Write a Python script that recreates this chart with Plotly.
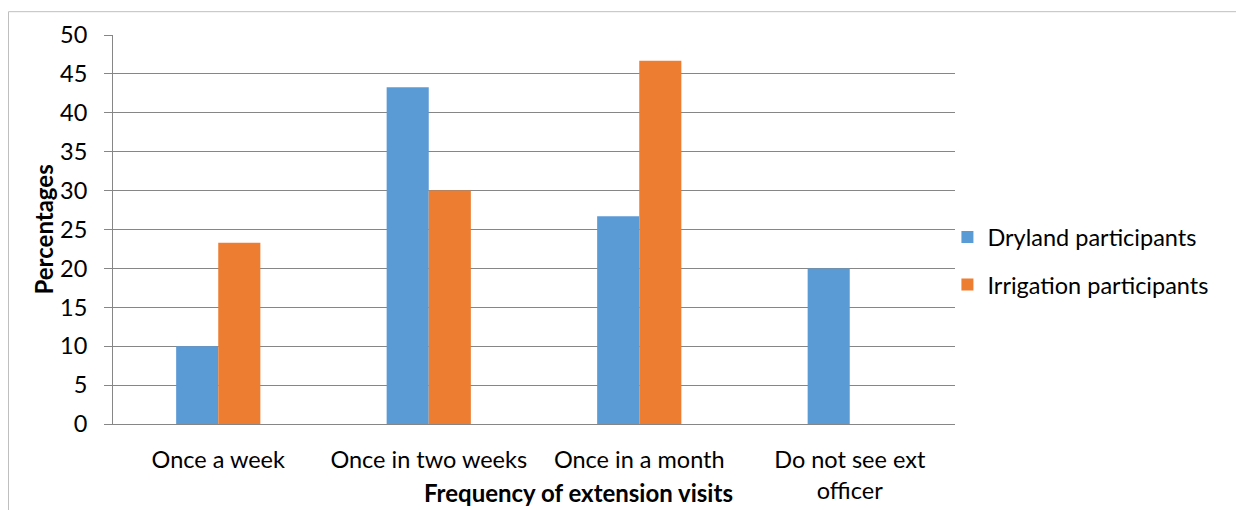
import plotly.graph_objects as go

categories = ["Once a week", "Once in two weeks", "Once in a month", "Do not see ext<br>officer"]
dryland = [10, 43.3, 26.7, 20]
irrigation = [23.3, 30, 46.7, 0]
series_names = ["Dryland participants", "Irrigation participants"]
tick_vals = [0, 5, 10, 15, 20, 25, 30, 35, 40, 45, 50]

FONT = "Lato"
FS = 23.5
fig = go.Figure()
fig.add_trace(go.Bar(x=categories, y=dryland, name=series_names[0], marker_color="#5B9BD5",
                     marker_line_width=0, legendgroup="a"))
fig.add_trace(go.Bar(x=categories, y=irrigation, name=series_names[1], marker_color="#ED7D31",
                     marker_line_width=0, legendgroup="b"))

# page is rendered with an 8px body margin, so figure coords = page coords - 8
fig.update_layout(
    width=1244, height=510,
    margin=dict(l=105, r=297, t=24, b=94),
    paper_bgcolor="white", plot_bgcolor="white",
    barmode="group", bargap=0.6, bargroupgap=0,
    font=dict(family=FONT, size=FS, color="#000000"),
    showlegend=True,
    legend=dict(x=0.991, y=(424 - 260) / 392, xanchor="left", yanchor="middle",
                font=dict(family=FONT, size=FS, color="#000000"),
                tracegroupgap=14, bgcolor="rgba(0,0,0,0)"),
    xaxis=dict(showgrid=False, showline=True, linecolor="#868686", linewidth=1,
               ticks="", tickfont=dict(family=FONT, size=FS), zeroline=False,
               ticklabelstandoff=15),
    yaxis=dict(range=[0, 50], tickvals=tick_vals, showgrid=True, gridcolor="#868686", gridwidth=1,
               showline=True, linecolor="#868686", linewidth=1, ticks="outside", ticklen=8,
               tickcolor="#868686", tickfont=dict(family=FONT, size=FS), zeroline=False,
               ticklabelstandoff=12),
)

fig.add_annotation(text="<b>Percentages</b>", xref="paper", yref="paper",
                   x=(43 - 113) / 842, y=(424 - 228) / 392, textangle=-90, showarrow=False,
                   xanchor="center", yanchor="middle",
                   font=dict(family=FONT, size=24, color="#000000"))
fig.add_annotation(text="<b>Frequency of extension visits</b>", xref="paper", yref="paper",
                   x=(578 - 113) / 842, y=(424 - 493) / 392, showarrow=False,
                   xanchor="center", yanchor="middle",
                   font=dict(family=FONT, size=24, color="#000000"))

# outer chart frame
fx = (8.5 - 113) / 842
fy = (424 - 8.5) / 392
fig.add_shape(type="line", xref="paper", yref="paper", x0=fx, x1=2, y0=fy, y1=fy,
              line=dict(color="#BFBFBF", width=1))
fig.add_shape(type="line", xref="paper", yref="paper", x0=fx, x1=fx, y0=fy, y1=-2,
              line=dict(color="#BFBFBF", width=1))

fig.write_html("out.html")
